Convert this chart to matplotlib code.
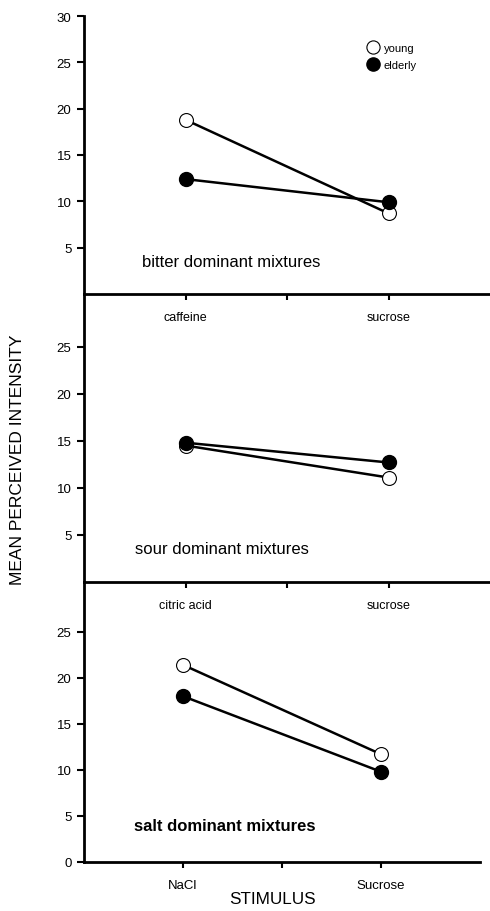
import numpy as np
import matplotlib
matplotlib.use("Agg")
import matplotlib.pyplot as plt

plt.rcParams['font.family'] = ['Liberation Sans', 'DejaVu Sans']

# 每个面板的刺激名称与两组均值
bitter_stim = ['caffeine', 'sucrose']
bitter_young = [18.8, 8.7]
bitter_elderly = [12.4, 9.9]

sour_stim = ['citric acid', 'sucrose']
sour_young = [14.5, 11.1]
sour_elderly = [14.8, 12.7]

salt_stim = ['NaCl', 'Sucrose']
salt_young = [21.4, 11.7]
salt_elderly = [18.0, 9.8]

panel_titles = ['bitter dominant mixtures', 'sour dominant mixtures', 'salt dominant mixtures']
y_ticks_top = [5, 10, 15, 20, 25, 30]
y_ticks_mid = [5, 10, 15, 20, 25]
y_ticks_bot = [0, 5, 10, 15, 20, 25]

W, H = 490, 912
fig = plt.figure(figsize=(W / 100, H / 100), dpi=100)


def px_axes(x0, x1, y_top, y_bot):
    return fig.add_axes([x0 / W, 1 - y_bot / H, (x1 - x0) / W, (y_bot - y_top) / H])


axes = [
    px_axes(84, 490, 17, 295),
    px_axes(84, 490, 295, 583),
    px_axes(84, 480, 583, 863),
]
ylims = [(0, 30), (0, 30.6), (0, 30.4)]
yticks = [y_ticks_top, y_ticks_mid, y_ticks_bot]
data = [
    (bitter_stim, bitter_young, bitter_elderly),
    (sour_stim, sour_young, sour_elderly),
    (salt_stim, salt_young, salt_elderly),
]
title_pos = [(0.143, 0.1), (0.125, 0.1), (0.125, 0.115)]

x = np.array([1, 2])
for i, ax in enumerate(axes):
    stim, young, elderly = data[i]
    ax.patch.set_alpha(0)
    ax.plot(x, young, color='black', lw=1.8, marker='o', ms=10,
            mfc='white', mec='black', mew=0.8, label='young', zorder=3)
    ax.plot(x, elderly, color='black', lw=1.8, marker='o', ms=10,
            mfc='black', mec='black', label='elderly', zorder=4)
    ax.set_xlim(0.5, 2.5)
    ax.set_ylim(*ylims[i])
    ax.set_yticks(yticks[i])
    ax.set_xticks([1, 1.5, 2])
    ax.set_xticklabels([stim[0], '', stim[1]])
    for s in ['top', 'right']:
        ax.spines[s].set_visible(False)
    ax.spines['left'].set_linewidth(2)
    ax.spines['bottom'].set_linewidth(2)
    ax.tick_params(axis='y', direction='out', length=5, width=1.5, labelsize=9.5, pad=4)
    ax.tick_params(axis='x', direction='out', length=4, width=1.5,
                   labelsize=9 if i < 2 else 9.5, pad=8)
    ax.text(title_pos[i][0], title_pos[i][1], panel_titles[i], transform=ax.transAxes,
            fontsize=12, fontweight='bold' if i == 2 else 'normal')

axes[0].legend(loc='upper left', bbox_to_anchor=(0.697, 0.903), frameon=False,
               handlelength=1.0, handletextpad=0.5, labelspacing=0.65, fontsize=8,
               borderaxespad=0, borderpad=0, markerscale=0.95)
for line in axes[0].get_legend().get_lines():
    line.set_linestyle('none')

fig.text(18 / W, 1 - 460 / H, 'MEAN PERCEIVED INTENSITY', rotation=90,
         ha='center', va='center', fontsize=12.5)
fig.text(272 / W, 1 - 900 / H, 'STIMULUS', ha='center', va='center', fontsize=12.3)

plt.savefig('out.png', dpi=100)
